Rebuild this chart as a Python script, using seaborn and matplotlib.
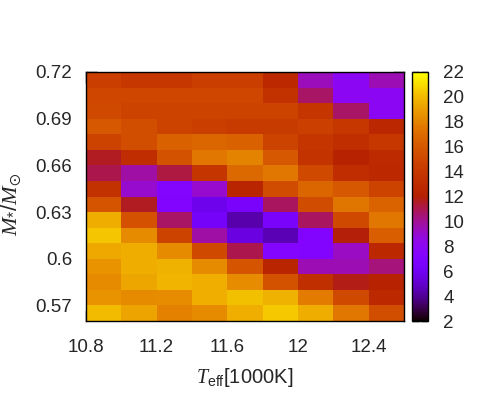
import numpy as np
import pandas as pd
import matplotlib
matplotlib.use("Agg")
import matplotlib.pyplot as plt
import seaborn as sns

# Effective temperature bin centres [1000 K]
teff = [10.9, 11.1, 11.3, 11.5, 11.7, 11.9, 12.1, 12.3, 12.5]
# Mass bin centres (top to bottom)
mass = [0.715, 0.705, 0.695, 0.685, 0.675, 0.665, 0.655, 0.645,
        0.635, 0.625, 0.615, 0.605, 0.595, 0.585, 0.575, 0.565]

row_0715 = [14.5, 14.0, 14.0, 14.5, 14.5, 12.9, 9.4, 8.0, 9.5]
row_0705 = [15.0, 15.0, 15.0, 15.0, 15.0, 13.5, 10.7, 8.0, 8.0]
row_0695 = [15.2, 14.8, 14.8, 14.8, 14.8, 14.8, 13.8, 10.7, 8.0]
row_0685 = [16.0, 15.5, 14.8, 14.5, 14.2, 14.2, 14.6, 14.0, 12.7]
row_0675 = [14.8, 15.5, 16.5, 16.7, 16.5, 14.8, 13.8, 13.3, 14.0]
row_0665 = [11.6, 13.2, 15.7, 17.5, 18.0, 16.0, 13.7, 12.3, 13.0]
row_0655 = [11.0, 9.8, 11.2, 13.8, 16.8, 17.5, 15.2, 13.2, 12.8]
row_0645 = [13.5, 9.0, 7.3, 9.0, 12.5, 15.3, 16.7, 16.0, 14.8]
row_0635 = [15.8, 11.6, 7.2, 5.8, 6.6, 10.8, 15.3, 17.4, 16.6]
row_0625 = [19.5, 15.6, 10.7, 6.3, 4.4, 6.5, 10.8, 15.2, 17.5]
row_0615 = [20.3, 18.3, 14.8, 9.8, 5.5, 4.5, 7.2, 11.9, 16.3]
row_0605 = [19.4, 19.5, 18.3, 15.2, 11.0, 7.3, 7.2, 9.2, 12.8]
row_0595 = [18.6, 19.5, 19.7, 18.3, 15.8, 12.5, 9.5, 9.5, 10.4]
row_0585 = [18.3, 19.3, 19.8, 19.6, 18.4, 15.7, 13.4, 11.7, 12.3]
row_0575 = [18.6, 18.3, 18.4, 19.6, 20.2, 19.7, 17.7, 15.2, 12.8]
row_0565 = [20.0, 19.2, 17.9, 18.3, 19.6, 20.4, 19.5, 17.5, 15.5]

x_ticks = [10.8, 11.2, 11.6, 12.0, 12.4]
x_ticklabels = ["10.8", "11.2", "11.6", "12", "12.4"]
y_ticks = [0.72, 0.69, 0.66, 0.63, 0.60, 0.57]
y_ticklabels = ["0.72", "0.69", "0.66", "0.63", "0.6", "0.57"]
cbar_ticks = [2, 4, 6, 8, 10, 12, 14, 16, 18, 20, 22]

rows = [row_0715, row_0705, row_0695, row_0685, row_0675, row_0665, row_0655,
        row_0645, row_0635, row_0625, row_0615, row_0605, row_0595, row_0585,
        row_0575, row_0565]
df = pd.DataFrame(rows, index=mass, columns=teff)

sns.set_theme(style="white")
plt.rcParams["font.family"] = ["Liberation Sans", "DejaVu Sans"]
plt.rcParams["mathtext.fontset"] = "custom"
plt.rcParams["mathtext.rm"] = "Liberation Sans"
plt.rcParams["mathtext.it"] = "Liberation Serif:italic"
plt.rcParams["mathtext.fallback"] = "stix"

FS = 13.5
fig = plt.figure(figsize=(4.91, 4.12), dpi=100)
W, H = 491.0, 412.0
ax = fig.add_axes([86 / W, 1 - 321 / H, 318 / W, 249 / H])
cax = fig.add_axes([412 / W, 1 - 321 / H, 16 / W, 249 / H])

sns.heatmap(df, ax=ax, cbar_ax=cax, cmap="gnuplot", vmin=2, vmax=22,
            xticklabels=False, yticklabels=False, linewidths=0,
            cbar_kws={"ticks": cbar_ticks})

# map numeric ticks to heatmap cell coordinates
x0, dx = teff[0] - 0.1, 0.2
ytop, dy = mass[0] + 0.005, 0.01
ax.set_xticks([(t - x0) / dx for t in x_ticks])
ax.set_xticklabels(x_ticklabels)
ax.set_yticks([(ytop - m) / dy for m in y_ticks])
ax.set_yticklabels(y_ticklabels, rotation=0)

for s in ax.spines.values():
    s.set_visible(True)
    s.set_color("black")
    s.set_linewidth(1.0)
ax.tick_params(axis="both", which="both", direction="in", length=8, width=1.0,
               color="black", labelsize=FS, top=True, right=True,
               bottom=True, left=True, pad=10)
ax.tick_params(axis="x", pad=13)

ax.set_xlabel(r"$T_{\rm eff}$[1000K]", fontsize=14.5)
ax.set_ylabel(r"$M_{*}/M_{\odot}$", fontsize=16)
ax.xaxis.set_label_coords(0.5, -0.18)
ax.yaxis.set_label_coords(-0.198, 0.47)

cb = ax.collections[0].colorbar
cb.outline.set_visible(True)
cb.outline.set_edgecolor("black")
cb.outline.set_linewidth(1.0)
cax.tick_params(axis="y", direction="in", length=5, width=1.0, color="black",
                labelsize=FS, left=True, right=True, pad=11)
cb.set_ticks(cbar_ticks)
cb.set_ticklabels([str(t) for t in cbar_ticks])

fig.savefig("out.png", dpi=100)
